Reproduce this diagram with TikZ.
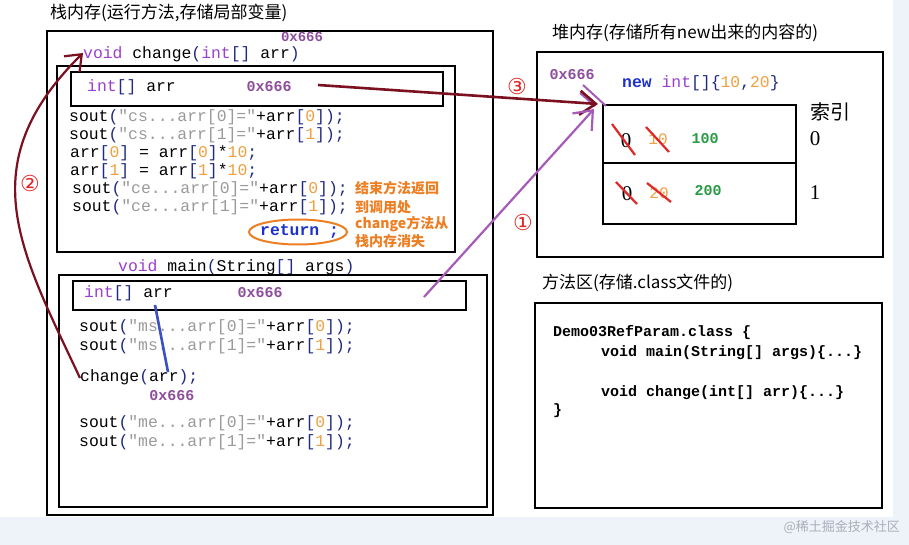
\documentclass[tikz,border=0pt]{standalone}
\usepackage{fontspec}
\setmainfont{Noto Sans CJK SC}
\setmonofont{Liberation Mono}
\newfontfamily\numserif{Liberation Serif}
\newfontfamily\circfont{DejaVu Sans}
\usepackage{xcolor}
\usepackage{tikz}
\usetikzlibrary{arrows.meta}
\definecolor{JvKey}{HTML}{9A3FD0}
\definecolor{JvBrk}{HTML}{1F2A80}
\definecolor{JvStr}{HTML}{9A9A9A}
\definecolor{JvNum}{HTML}{F0A040}
\definecolor{JvAddr}{HTML}{8E4E9E}
\definecolor{JvBlue}{HTML}{1E32C8}
\definecolor{JvOrange}{HTML}{EE7E22}
\definecolor{JvGreen}{HTML}{2A9A45}
\definecolor{JvRed}{HTML}{E02828}
\definecolor{JvDark}{HTML}{7A1020}
\definecolor{JvLila}{HTML}{A55CB8}
\definecolor{JvLine}{HTML}{3C50C0}
\definecolor{JvBand}{HTML}{EEF2F9}
\definecolor{JvWater}{HTML}{A8B0BA}
\newcommand{\ckw}[1]{\textcolor{JvKey}{#1}}
\newcommand{\cbr}[1]{\textcolor{JvBrk}{#1}}
\newcommand{\cstr}[1]{\textcolor{JvStr}{#1}}
\newcommand{\cnum}[1]{\textcolor{JvNum}{#1}}
\newcommand{\soutln}[2]{sout\cbr{(}\cstr{"#1...arr[#2]="}+arr\cbr{[}\cnum{#2}\cbr{]);}}

\begin{document}
\begin{tikzpicture}[x=1pt,y=-1pt,
  codeline/.style={anchor=west,inner sep=0pt,font=\ttfamily\fontsize{16.4}{18}\selectfont},
  addr/.style={inner sep=0pt,text=JvAddr,font=\ttfamily\bfseries\fontsize{15}{17}\selectfont},
  boxline/.style={draw=black,line width=2.6pt},
  areatitle/.style={anchor=west,inner sep=0pt,font=\fontsize{17}{19}\selectfont},
  notetext/.style={anchor=west,inner sep=0pt,text=JvOrange,font=\bfseries\fontsize{14}{16}\selectfont},
  classline/.style={anchor=west,inner sep=0pt,font=\ttfamily\bfseries\fontsize{15}{17}\selectfont},
  bigdigit/.style={inner sep=0pt,font=\numserif\fontsize{21}{23}\selectfont},
  cross/.style={JvRed,line width=2.2pt},
  circnum/.style={inner sep=0pt,text=JvRed,font=\circfont\fontsize{22}{24}\selectfont}]
\path[use as bounding box] (0,0) rectangle (909,545);
\fill[JvBand] (0,0) rectangle (909,545);
\fill[white] (0,0) rectangle (893,517);

% stack memory
\node[areatitle] (stacktitle) at (50,13) {栈内存(运行方法,存储局部变量)};
\draw[boxline] (47,31) rectangle (493,515);
\node[addr,font=\ttfamily\bfseries\fontsize{14}{16}\selectfont] (chgtop) at (302,37) {0x666};
\node[codeline] (chghead) at (83,54) {\ckw{void} change\cbr{(}\ckw{int}\cbr{[]} arr\cbr{)}};
\draw[boxline] (57,66) rectangle (455,252);
\draw[boxline] (71,72) rectangle (443,106);
\node[codeline] (chgarr) at (87,87) {\ckw{int}\cbr{[]} arr};
\node[addr] (chgaddr) at (269,87) {0x666};
\node[codeline] (cs0) at (69,117) {\soutln{cs}{0}};
\node[codeline] (cs1) at (69,135) {\soutln{cs}{1}};
\node[codeline] (mul0) at (70,153) {arr\cbr{[}\cnum{0}\cbr{]} = arr\cbr{[}\cnum{0}\cbr{]}*\cnum{10}\cbr{;}};
\node[codeline] (mul1) at (70,171) {arr\cbr{[}\cnum{1}\cbr{]} = arr\cbr{[}\cnum{1}\cbr{]}*\cnum{10}\cbr{;}};
\node[codeline] (ce0) at (72,189) {\soutln{ce}{0}};
\node[codeline] (ce1) at (72,207) {\soutln{ce}{1}};
\node[codeline,text=JvBlue] (ret) at (260,231) {\bfseries return ;};
\draw[JvOrange,line width=2pt] (298,232) ellipse [x radius=49pt,y radius=12.5pt];
\node[notetext] (note1) at (355,188) {结束方法返回};
\node[notetext] (note2) at (355,207) {到调用处};
\node[notetext] (note3) at (355,224) {change方法从};
\node[notetext] (note4) at (355,241) {栈内存消失};

\node[codeline] (mainhead) at (118,267) {\ckw{void} main\cbr{(}String\cbr{[]} args\cbr{)}};
\draw[boxline] (59,275) rectangle (487,507);
\draw[boxline] (73,281) rectangle (466,310);
\node[codeline] (mainarr) at (84,293) {\ckw{int}\cbr{[]} arr};
\node[addr] (mainaddr) at (260,293) {0x666};
\node[codeline] (ms0) at (79,327) {\soutln{ms}{0}};
\node[codeline] (ms1) at (79,346) {\soutln{ms}{1}};
\node[codeline] (call) at (80,377) {change\cbr{(}arr\cbr{);}};
\node[addr] (calladdr) at (172,396) {0x666};
\node[codeline] (me0) at (79,423) {\soutln{me}{0}};
\node[codeline] (me1) at (79,442) {\soutln{me}{1}};

% heap memory
\node[areatitle] (heaptitle) at (552,33) {堆内存(存储所有new出来的内容的)};
\draw[boxline] (537,52) rectangle (883,257);
\node[addr] (heapaddr) at (572,75) {0x666};
\node[codeline] (newarr) at (622,83) {\textcolor{JvBlue}{\bfseries new} \ckw{int}\cbr{[]\{}\cnum{10}\cbr{,}\cnum{20}\cbr{\}}};
\draw[boxline] (603,105) rectangle (796,224);
\draw[boxline] (603,163) -- (796,163);
\node[bigdigit] (v00) at (626,141) {0};
\node[inner sep=0pt,text=JvNum,font=\ttfamily\fontsize{16}{18}\selectfont] (v01) at (658,139) {10};
\node[inner sep=0pt,text=JvGreen,font=\ttfamily\bfseries\fontsize{15}{17}\selectfont] (v02) at (705,139) {100};
\node[bigdigit] (v10) at (627,194) {0};
\node[inner sep=0pt,text=JvNum,font=\ttfamily\fontsize{16}{18}\selectfont] (v11) at (659,193) {20};
\node[inner sep=0pt,text=JvGreen,font=\ttfamily\bfseries\fontsize{15}{17}\selectfont] (v12) at (708,191) {200};
\draw[cross] (612,124) -- (635,155);
\draw[cross] (646,127) -- (669,152);
\draw[cross] (616,182) -- (637,204);
\draw[cross] (647,183) -- (671,202);
\node[inner sep=0pt,font=\fontsize{20}{22}\selectfont] (idxlabel) at (830,112) {索引};
\node[bigdigit] (idx0) at (815,139) {0};
\node[bigdigit] (idx1) at (815,193) {1};
\draw[JvLila,line width=2pt] (583,85) -- (606,106);
\draw[JvLila,line width=2pt] (580,93) -- (595,106);

% method area
\node[areatitle] (methtitle) at (542,283) {方法区(存储.class文件的)};
\draw[boxline] (535,303) rectangle (882,508);
\node[classline] (cls) at (553,333) {Demo03RefParam.class \{};
\node[classline] (clsmain) at (601,353) {void main(String[] args)\{...\}};
\node[classline] (clschg) at (601,393) {void change(int[] arr)\{...\}};
\node[classline] (clsend) at (553,411) {\}};

% connectors
\coordinate (ptrfrom) at (318,85);
\coordinate (ptrto) at (598,104);
\coordinate (mainref) at (424,297);
\coordinate (mainto) at (594,109);
\coordinate (argfrom) at (155,305);
\coordinate (argto) at (168,372);
\coordinate (callstart) at (80,378);
\coordinate (chgentry) at (83,53);
\draw[JvDark,line width=2.6pt,-{Straight Barb[length=16pt,width=24pt]}] (ptrfrom) -- (ptrto);
\draw[JvLila,line width=2.2pt,-{Straight Barb[length=16pt,width=26pt]}] (mainref) -- (mainto);
\draw[JvLine,line width=2.6pt] (argfrom) -- (argto);
\draw[JvDark,line width=2.2pt,-{Straight Barb[length=14pt,width=22pt]}] (callstart) .. controls (20,250) and (-30,165) .. (chgentry);
\node[circnum] (n3) at (517,86) {③};
\node[circnum] (n1) at (523,222) {①};
\node[circnum] (n2) at (30,183) {②};

\node[anchor=east,inner sep=0pt,text=JvWater,font=\fontsize{13}{15}\selectfont] (wmark) at (900,527) {@稀土掘金技术社区};
\end{tikzpicture}
\end{document}
